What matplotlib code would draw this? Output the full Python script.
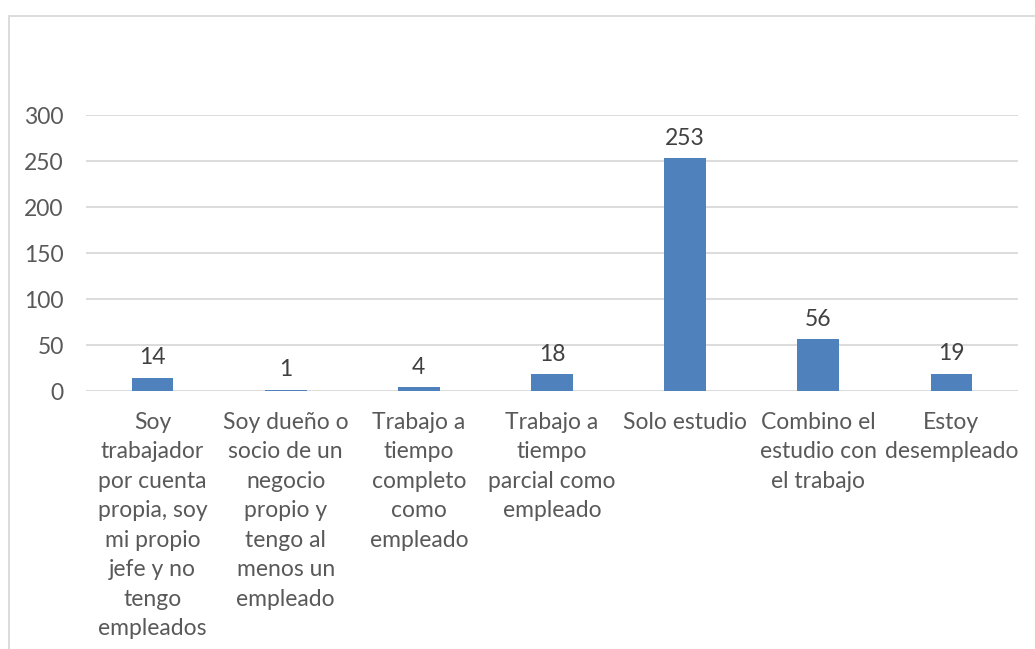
import matplotlib
matplotlib.use("Agg")
import matplotlib.pyplot as plt
from matplotlib.patches import Rectangle

categories = [
    "Soy\ntrabajador\npor cuenta\npropia, soy\nmi propio\njefe y no\ntengo\nempleados",
    "Soy dueño o\nsocio de un\nnegocio\npropio y\ntengo al\nmenos un\nempleado",
    "Trabajo a\ntiempo\ncompleto\ncomo\nempleado",
    "Trabajo a\ntiempo\nparcial como\nempleado",
    "Solo estudio",
    "Combino el\nestudio con\nel trabajo",
    "Estoy\ndesempleado",
]
values = [14, 1, 4, 18, 253, 56, 19]
yticks = [0, 50, 100, 150, 200, 250, 300]

W, H = 1035, 649
fig = plt.figure(figsize=(W / 100, H / 100), dpi=100)
plt.rcParams['font.family'] = ['Lato', 'DejaVu Sans']

# outer chart border (extends past right/bottom edge)
fig.patches.append(Rectangle((9 / W, -0.1), 1.2, (H - 16) / H + 0.1,
                             transform=fig.transFigure, fill=False,
                             edgecolor='#D9D9D9', linewidth=1.3))

left, right, top, bottom = 86, 1018, 115, 391
ax = fig.add_axes([left / W, 1 - bottom / H, (right - left) / W, (bottom - top) / H])

x = list(range(len(values)))
ax.bar(x, values, width=0.313, color='#4F81BD', zorder=3)
ax.set_xlim(-0.5, len(values) - 0.5)
ax.set_ylim(0, 300)
ax.set_yticks(yticks)
ax.set_yticklabels([str(t) for t in yticks])
ax.grid(axis='y', color='#D9D9D9', linewidth=1.3, zorder=0)
for s in ax.spines.values():
    s.set_visible(False)
ax.tick_params(axis='both', length=0, labelsize=16.5, labelcolor='#595959')
ax.tick_params(axis='y', pad=16)
ax.set_xticks(x)
ax.set_xticklabels(categories, linespacing=1.5, va='top')
ax.tick_params(axis='x', pad=15)

for xi, v in zip(x, values):
    ax.annotate(str(v), (xi, v), xytext=(0, 7), textcoords='offset points',
                ha='center', va='bottom', fontsize=16.5, color='#404040')

fig.savefig('out.png', dpi=100)
